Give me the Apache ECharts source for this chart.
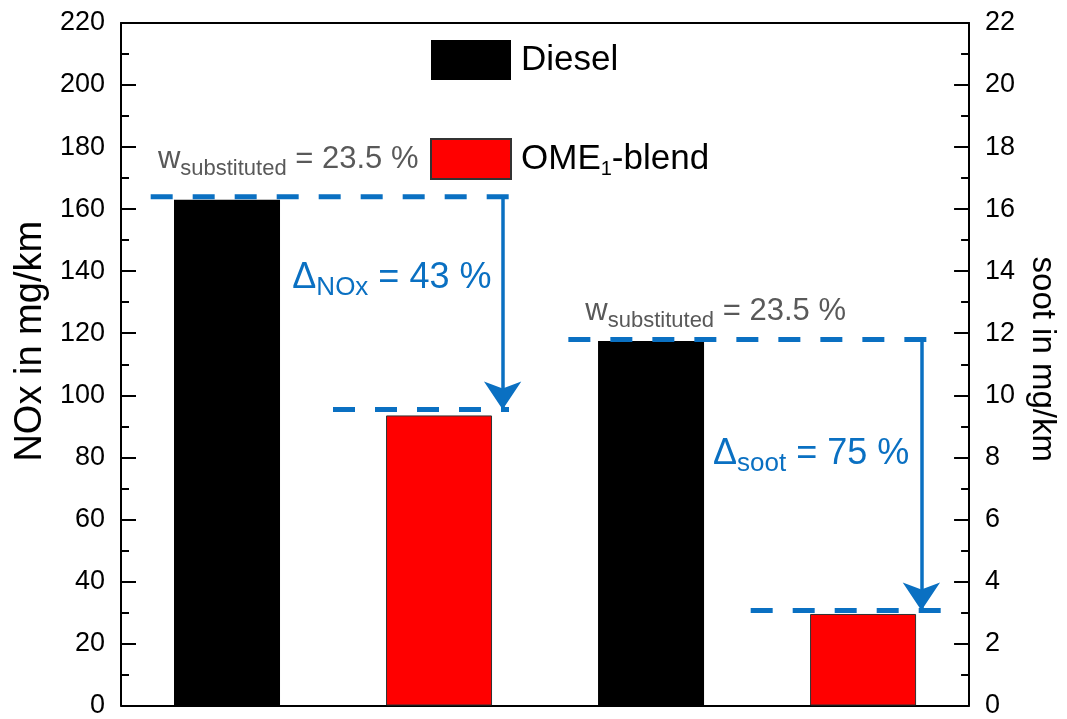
<!DOCTYPE html>
<html>
<head>
<meta charset="utf-8">
<script src="https://cdn.jsdelivr.net/npm/echarts@6/dist/echarts.min.js"></script>
<style>
html,body{margin:0;padding:0;background:#fff;overflow:hidden;}
#chart{width:1067px;height:719px;}
</style>
</head>
<body>
<div id="chart"></div>
<script>
// ---- data ----
const categories = ['NOx Diesel', 'NOx OME1-blend', 'soot Diesel', 'soot OME1-blend'];
const noxValues = [163, 93.5];        // Diesel, OME1-blend (mg/km)
const sootValues = [11.75, 2.95];     // Diesel, OME1-blend (mg/km)
const noxTicks = [0, 220, 20];
const sootTicks = [0, 22, 2];
// annotation levels
const noxLevels = [164, 95.4];
const sootLevels = [11.8, 3.06];
// annotation extents along a 0..4 helper axis (category units)
const noxUpperX = [0.14, 1.83];
const noxLowerX = [1.0, 1.83];
const noxArrowX = 1.80;
const sootUpperX = [2.11, 3.80];
const sootLowerX = [2.97, 3.88];
const sootArrowX = 3.775;

const FONT = 'Liberation Sans, Arial, sans-serif';
const BLUE = '#0a70c2';
const GREY = '#595959';

const chart = echarts.init(document.getElementById('chart'));

function yAxisCfg(t, name, pos, rot, gap, fs, pad) {
  return {
    type: 'value', min: t[0], max: t[1], interval: t[2], position: pos,
    name: name, nameLocation: 'middle', nameGap: gap, nameRotate: rot,
    nameTextStyle: {fontSize: fs, color: '#000', fontFamily: FONT, padding: pad},
    axisLine: {show: true, lineStyle: {color: '#000', width: 2}},
    axisTick: {show: true, inside: true, length: 15, lineStyle: {color: '#000', width: 2}},
    minorTick: {show: true, splitNumber: 2, length: 8, lineStyle: {color: '#000', width: 2}},
    axisLabel: {fontSize: 27, color: '#000', margin: 16, fontFamily: FONT},
    splitLine: {show: false}
  };
}

function dash(name, xs, y, yIdx) {
  return {
    name: name, type: 'line', xAxisIndex: 1, yAxisIndex: yIdx,
    data: [[xs[0], y], [xs[1], y]], symbol: 'none', silent: true, z: 5,
    lineStyle: {color: BLUE, width: 5, type: [22, 20]}
  };
}

function arrow(x, y0, y1) {
  return {
    silent: true, symbol: ['none', 'arrow'], symbolSize: 28,
    label: {show: false},
    lineStyle: {color: BLUE, width: 3.5, type: 'solid'},
    data: [[{coord: [x, y0]}, {coord: [x, y1]}]]
  };
}

const barBase = {type: 'bar', barWidth: '50%', barGap: '-100%', xAxisIndex: 0};

chart.setOption({
  animation: false,
  textStyle: {fontFamily: FONT},
  grid: {left: 121, right: 93, top: 23, bottom: 8, containLabel: false},
  legend: {
    orient: 'vertical', left: 425, top: 35, itemWidth: 80, itemHeight: 40, itemGap: 58,
    icon: 'rect', selectedMode: false,
    data: ['Diesel', 'OME1-blend'],
    formatter: n => n === 'Diesel' ? '{a|Diesel}' : '{a|OME}{s|1}{a|-blend}',
    textStyle: {
      padding: [0, 0, 0, 5],
      rich: {
        a: {fontSize: 35, lineHeight: 40, color: '#000', fontFamily: FONT},
        s: {fontSize: 20, lineHeight: 14, verticalAlign: 'bottom', color: '#000', fontFamily: FONT}
      }
    }
  },
  xAxis: [
    {type: 'category', data: categories, position: 'bottom',
     axisLine: {show: true, onZero: false, lineStyle: {color: '#000', width: 2}},
     axisTick: {show: false}, axisLabel: {show: false}},
    {type: 'value', min: 0, max: 4, position: 'top',
     axisLine: {show: true, onZero: false, lineStyle: {color: '#000', width: 2}},
     axisTick: {show: false}, axisLabel: {show: false}, splitLine: {show: false}}
  ],
  yAxis: [
    yAxisCfg(noxTicks, 'NOx in mg/km', 'left', 90, 60, 38, [0, 0, 0, 46]),
    yAxisCfg(sootTicks, 'soot in mg/km', 'right', -90, 56, 33, [0, 10, 0, 0])
  ],
  series: [
    Object.assign({}, barBase, {name: 'Diesel', yAxisIndex: 0,
      data: [noxValues[0], '-', '-', '-'], itemStyle: {color: '#000'}}),
    Object.assign({}, barBase, {name: 'OME1-blend', yAxisIndex: 0,
      data: ['-', noxValues[1], '-', '-'], itemStyle: {color: '#ff0000', borderColor: '#333', borderWidth: 1}}),
    Object.assign({}, barBase, {name: 'Diesel', yAxisIndex: 1,
      data: ['-', '-', sootValues[0], '-'], itemStyle: {color: '#000'}}),
    Object.assign({}, barBase, {name: 'OME1-blend', yAxisIndex: 1,
      data: ['-', '-', '-', sootValues[1]], itemStyle: {color: '#ff0000', borderColor: '#333', borderWidth: 1}}),
    Object.assign(dash('noxUpper', noxUpperX, noxLevels[0], 0),
      {markLine: arrow(noxArrowX, noxLevels[0], noxLevels[1])}),
    dash('noxLower', noxLowerX, noxLevels[1], 0),
    Object.assign(dash('sootUpper', sootUpperX, sootLevels[0], 1),
      {markLine: arrow(sootArrowX, sootLevels[0], sootLevels[1])}),
    dash('sootLower', sootLowerX, sootLevels[1], 1)
  ]
});

// text annotations positioned through the axes
function px(x, y, yIdx) {
  return chart.convertToPixel({xAxisIndex: 1, yAxisIndex: yIdx}, [x, y]);
}
function richText(pos, mainSub, color, fMain, fSub, lhMain, lhSub) {
  return {
    type: 'text', x: pos[0], y: pos[1], z: 20, silent: true,
    style: {
      text: mainSub,
      verticalAlign: 'middle', align: 'left',
      rich: {
        m: {fontSize: fMain, lineHeight: lhMain, fill: color, fontFamily: FONT, verticalAlign: 'middle'},
        s: {fontSize: fSub, lineHeight: lhSub, fill: color, fontFamily: FONT, verticalAlign: 'bottom'}
      }
    }
  };
}
const wsub = '{m|w}{s|substituted}{m| = 23.5 %}';
chart.setOption({
  graphic: [
    richText(px(0.174, 175.9, 0), wsub, GREY, 31, 22, 40, 20),
    richText(px(2.19, 127.0, 0), wsub, GREY, 31, 22, 40, 20),
    richText(px(0.808, 137.8, 0), '{m|Δ}{s|NOx}{m| = 43 %}', BLUE, 36, 26, 46, 22),
    richText(px(2.792, 8.12, 1), '{m|Δ}{s|soot}{m| = 75 %}', BLUE, 36, 26, 46, 22)
  ]
});
</script>
</body>
</html>
